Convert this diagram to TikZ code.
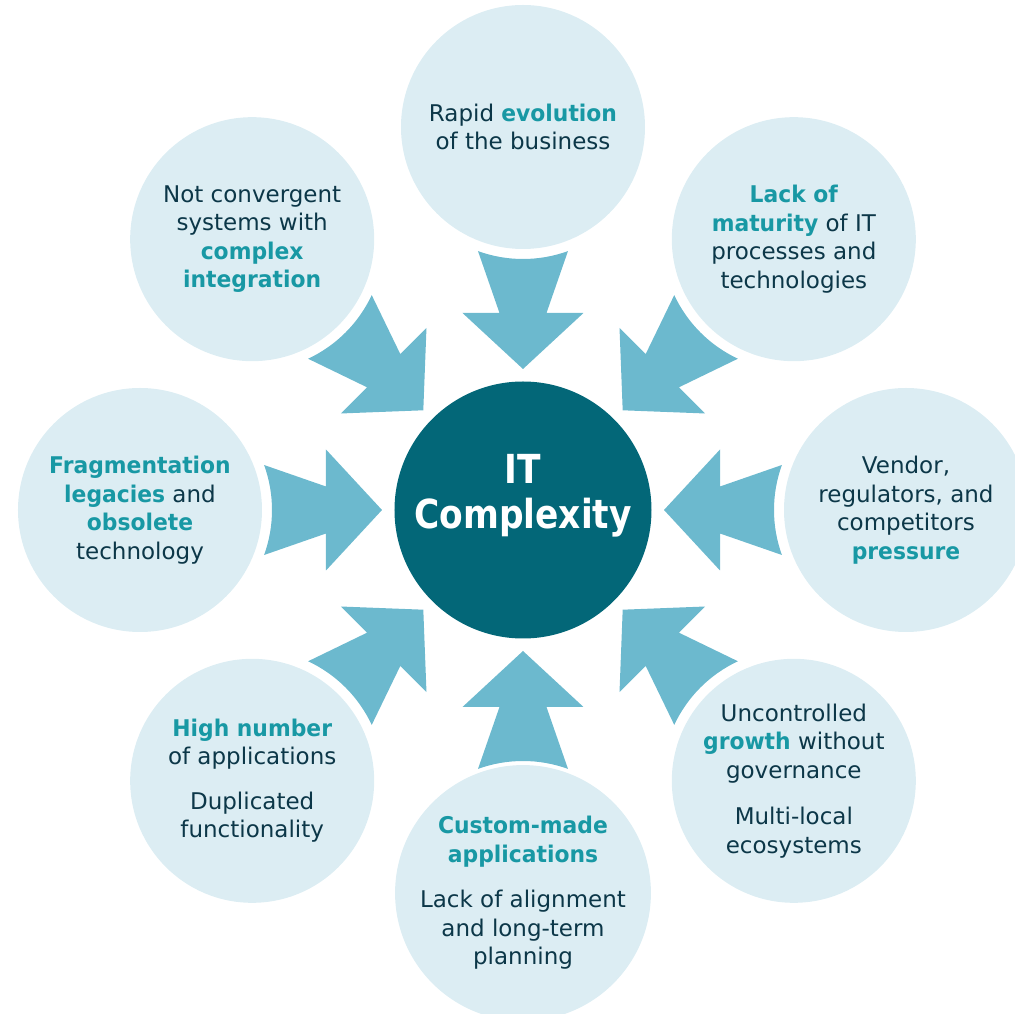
\documentclass[tikz,border=0pt]{standalone}
\usepackage{fontspec}
\setmainfont{DejaVu Sans}
\usepackage{graphicx}
\definecolor{bubblefill}{RGB}{220,237,243}
\definecolor{arrowblue}{RGB}{108,185,206}
\definecolor{coreteal}{RGB}{3,103,120}
\definecolor{bodytext}{RGB}{12,55,72}
\definecolor{hiteal}{RGB}{24,152,164}
\newcommand{\hiword}[1]{\textcolor{hiteal}{\bfseries\scalebox{0.95}[1]{#1}}}
\newcommand{\coreword}[1]{\scalebox{0.86}[1]{#1}}
\tikzset{
  bubble/.style={circle,fill=bubblefill,minimum size=244pt,inner sep=0pt,
    align=center,text=bodytext,font=\fontsize{23}{28.5}\selectfont},
  core/.style={circle,fill=coreteal,minimum size=257pt,inner sep=0pt},
  coretext/.style={align=center,text=white,inner sep=0pt,
    font=\fontsize{40}{45}\selectfont\bfseries},
  pusharrow/.style={fill=arrowblue}
}

\begin{document}
\begin{tikzpicture}[x=1pt,y=1pt]
  \clip (-523,-504) rectangle (492,510);
  \node[core] (itc) at (0,0) {};
  \node[coretext] (itclabel) at ([yshift=14pt]itc.center) {\coreword{IT}\\\coreword{Complexity}};
  \node[bubble] (evol) at (90:383) {Rapid \hiword{evolution}\\of the business};
  \node[bubble] (maturity) at (45:383) {\hiword{Lack of}\\\hiword{maturity} of IT\\processes and\\technologies};
  \node[bubble] (vendor) at (0:383) {Vendor,\\regulators, and\\competitors\\\hiword{pressure}};
  \node[bubble] (growth) at (-45:383) {Uncontrolled\\\hiword{growth} without\\governance\\[18pt]Multi-local\\ecosystems};
  \node[bubble] (custom) at (-90:383) {\hiword{Custom-made}\\\hiword{applications}\\[17pt]Lack of alignment\\and long-term\\planning};
  \node[bubble] (apps) at (-135:383) {\hiword{High number}\\of applications\\[16pt]Duplicated\\functionality};
  \node[bubble] (legacy) at (180:383) {\hiword{Fragmentation}\\\hiword{legacies} and\\\hiword{obsolete}\\technology};
  \node[bubble] (integr) at (135:383) {Not convergent\\systems with\\\hiword{complex}\\\hiword{integration}};
  % block arrows pointing in to the core
  \foreach \a in {0,45,...,315}{
    \begin{scope}[shift={(itc.center)},rotate=\a]
      \fill[pusharrow] (141,0) -- (197,60.5) -- (197,23.5) -- (258.9,45)
        arc[start angle=160.07,end angle=199.93,radius=132pt]
        -- (197,-23.5) -- (197,-60.5) -- cycle;
    \end{scope}
  }
\end{tikzpicture}
\end{document}
